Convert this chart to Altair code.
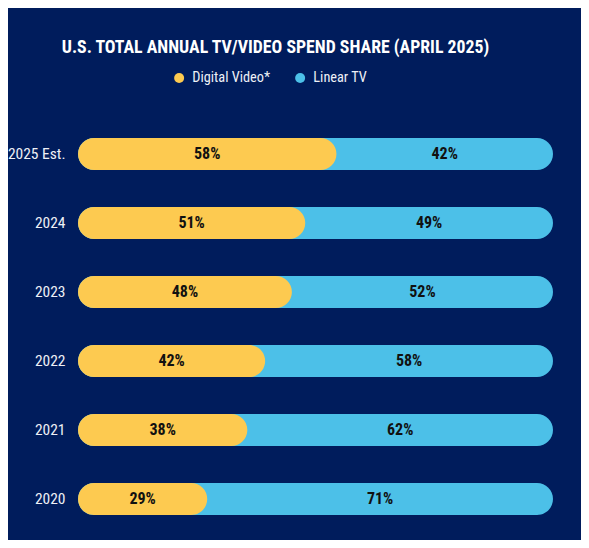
import pandas as pd
import altair as alt

years = ["2025 Est.", "2024", "2023", "2022", "2021", "2020"]
digital = [58, 51, 48, 42, 38, 29]
linear = [42, 49, 52, 58, 62, 71]

series = ["Digital Video*", "Linear TV"]
colors = ["#fdca50", "#4cc0e8"]

df = pd.DataFrame({"year": years, "digital": digital, "linear": linear})

FONT = "'Roboto Condensed', 'DejaVu Sans Condensed', 'Liberation Sans Narrow', Roboto, sans-serif"
BG = "#001c5c"
# the blue track runs a bit past 100 in the original graphic
TRACK_END = 106.6

base = alt.Chart(df).transform_calculate(
    start="0",
    track=f"{TRACK_END}",
    dig_label="datum.digital + '%'",
    lin_label="datum.linear + '%'",
    dig_mid="datum.digital / 2",
    lin_mid=f"(datum.digital + {TRACK_END}) / 2",
    dig_name="'Digital Video*'",
    lin_name="'Linear TV'",
)

x_scale = alt.Scale(domain=[0, TRACK_END], nice=False, zero=True)
y_enc = alt.Y(
    "year:N", sort=years, title=None,
    scale=alt.Scale(paddingInner=0.1, paddingOuter=0.05),
    axis=alt.Axis(domain=False, ticks=False, labelPadding=13, labelFont=FONT,
                  labelFontSize=15.5, labelColor="#eef0f6"),
)
color_scale = alt.Scale(domain=series, range=colors)
legend = alt.Legend(
    title=None, orient="none", legendX=94, legendY=-49, direction="horizontal",
    symbolType="circle", symbolSize=100, symbolStrokeWidth=0, labelFont=FONT,
    labelFontSize=14.3, labelColor="#eef0f6", labelOffset=6, columnPadding=22,
)

blue = base.mark_bar(height=32, cornerRadius=16).encode(
    x=alt.X("start:Q", scale=x_scale, axis=None),
    x2="track:Q",
    y=y_enc,
    color=alt.Color("lin_name:N", scale=color_scale, legend=legend),
)

yellow = base.mark_bar(height=32, cornerRadius=16).encode(
    x=alt.X("start:Q", scale=x_scale, axis=None),
    x2="digital:Q",
    y=y_enc,
    color=alt.Color("dig_name:N", scale=color_scale, legend=legend),
)

txt = dict(font=FONT, fontSize=16, fontWeight="bold", color="#111111")
dig_text = base.mark_text(**txt).encode(
    x=alt.X("dig_mid:Q", scale=x_scale, axis=None), y=y_enc, text="dig_label:N"
)
lin_text = base.mark_text(**txt).encode(
    x=alt.X("lin_mid:Q", scale=x_scale, axis=None), y=y_enc, text="lin_label:N"
)

chart = alt.layer(blue, yellow, dig_text, lin_text).properties(
    width=475,
    height=414,
    padding={"left": 70, "top": 111.5, "right": 28, "bottom": 6},
    autosize=alt.AutoSizeParams(type="none"),
    background=BG,
    title=alt.TitleParams(
        "U.S. TOTAL ANNUAL TV/VIDEO SPEND SHARE (APRIL 2025)",
        font=FONT, fontSize=17.8, fontWeight="bold", color="#ffffff",
        anchor="middle", offset=14, dx=-40,
    ),
).configure_view(strokeWidth=0)

chart.save("out.html", embed_options={"renderer": "svg", "actions": False})
